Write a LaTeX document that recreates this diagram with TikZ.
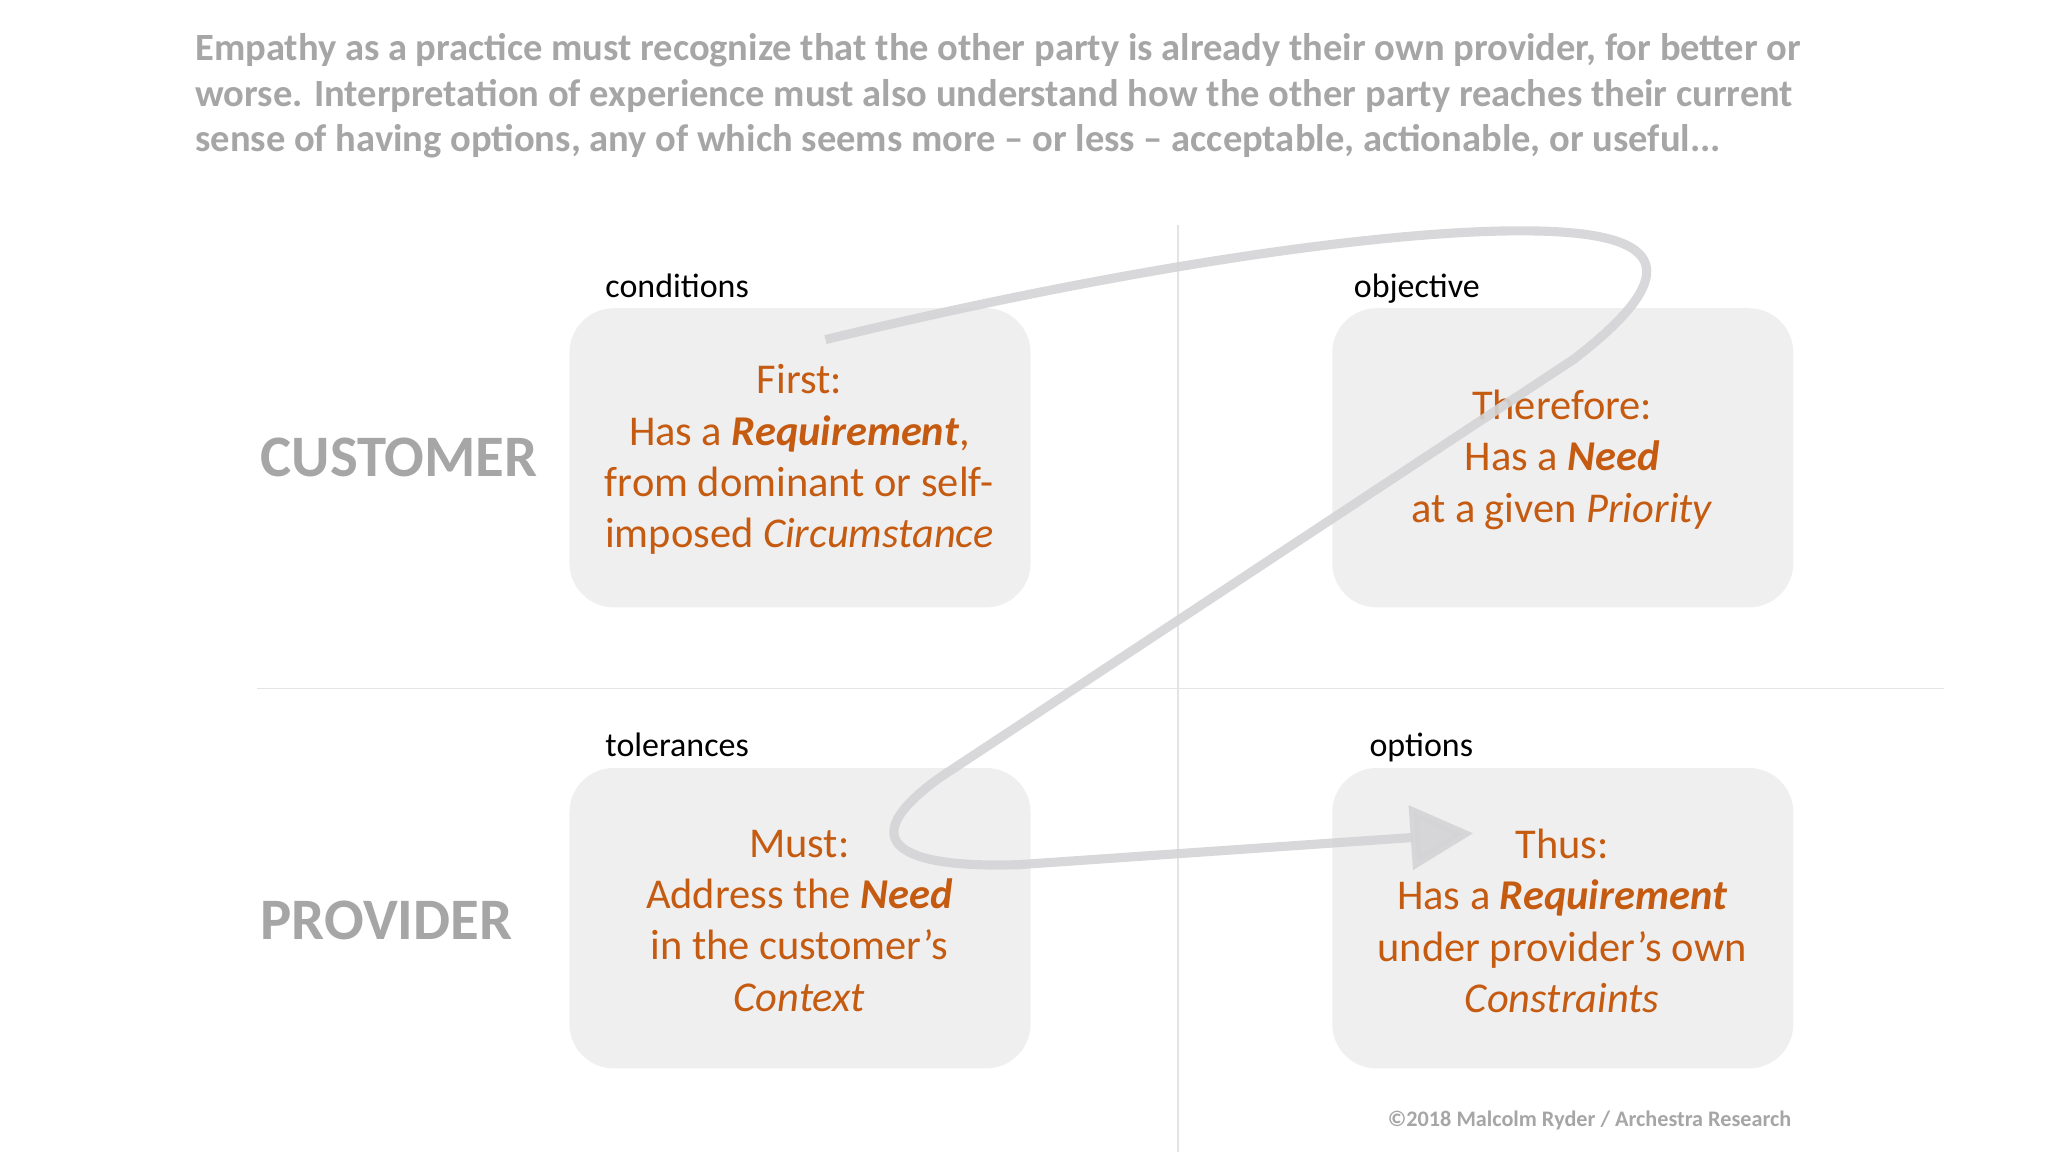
\documentclass[tikz,border=0pt]{standalone}
\usepackage{fontspec}
\setmainfont{Carlito}
\usetikzlibrary{arrows.meta}
\definecolor{org}{HTML}{C55A11}
\definecolor{hdr}{HTML}{A6A6A6}
\definecolor{boxf}{HTML}{EFEFEF}
\definecolor{rule}{HTML}{E4E4E4}
\definecolor{curv}{HTML}{D4D4D6}
\tikzset{
  qbox/.style={fill=boxf,rounded corners=34pt,draw=none},
  btext/.style={text=org,align=center,font=\fontsize{32.5}{39.3}\selectfont},
  lab/.style={anchor=base west,font=\fontsize{26}{30}\selectfont},
  role/.style={anchor=west,text=hdr,font=\fontsize{45}{50}\selectfont\bfseries},
}
\begin{document}
\begin{tikzpicture}[x=1pt,y=-1pt]
\useasboundingbox[fill=white] (0,0) rectangle (1568,882);
\draw[rule,line width=1pt] (902,172) -- (902,882);
\draw[rule,line width=1pt] (197,527) -- (1488,527);
\fill[qbox] (436,236) rectangle (789,465);
\fill[qbox] (1020,236) rectangle (1373,465);
\fill[qbox] (436,588) rectangle (789,818);
\fill[qbox] (1020,588) rectangle (1373,818);
\node[anchor=north west,text=hdr,align=left,font=\fontsize{29.5}{35}\selectfont\bfseries] (hd) at (146,22)
 {Empathy as a practice must recognize that the other party is already their own provider, for better or\\
 worse. Interpretation of experience must also understand how the other party reaches their current\\
 sense of having options, any of which seems more -- or less -- acceptable, actionable, or useful...};
\node[role] (cu) at (196,350) {CUSTOMER};
\node[role] (pr) at (196,705) {PROVIDER};
\node[lab] (l1) at (460,228) {conditions};
\node[lab] (l2) at (1033,228) {objective};
\node[lab] (l3) at (460,579) {tolerances};
\node[lab] (l4) at (1045,579) {options};
\node[btext] (b1) at (612,352) {First:\\Has a \textbf{\textit{Requirement}},\\from dominant or self-\\imposed \textit{Circumstance}};
\node[btext] (b2) at (1196,352) {Therefore:\\Has a \textbf{\textit{Need}}\\at a given \textit{Priority}};
\node[btext] (b3) at (612,705) {Must:\\Address the \textbf{\textit{Need}}\\in the customer’s\\\textit{Context}};
\node[btext] (b4) at (1196,705) {Thus:\\Has a \textbf{\textit{Requirement}}\\under provider’s own\\\textit{Constraints}};
\node[anchor=east,text=hdr,font=\fontsize{17}{20}\selectfont\bfseries] (cp) at (1375,858) {©2018 Malcolm Ryder / Archestra Research};
\coordinate (s) at (632,260);
\coordinate (e) at (1128,638);
\draw[curv,opacity=0.9,line width=7pt,-{Triangle[length=48pt,width=48pt]}]
 (s) .. controls (880,200) and (1100,170) .. (1200,178)
 .. controls (1290,185) and (1270,225) .. (1205,275)
 -- (720,595)
 .. controls (650,645) and (690,665) .. (780,662)
 -- (e);
\end{tikzpicture}
\end{document}
